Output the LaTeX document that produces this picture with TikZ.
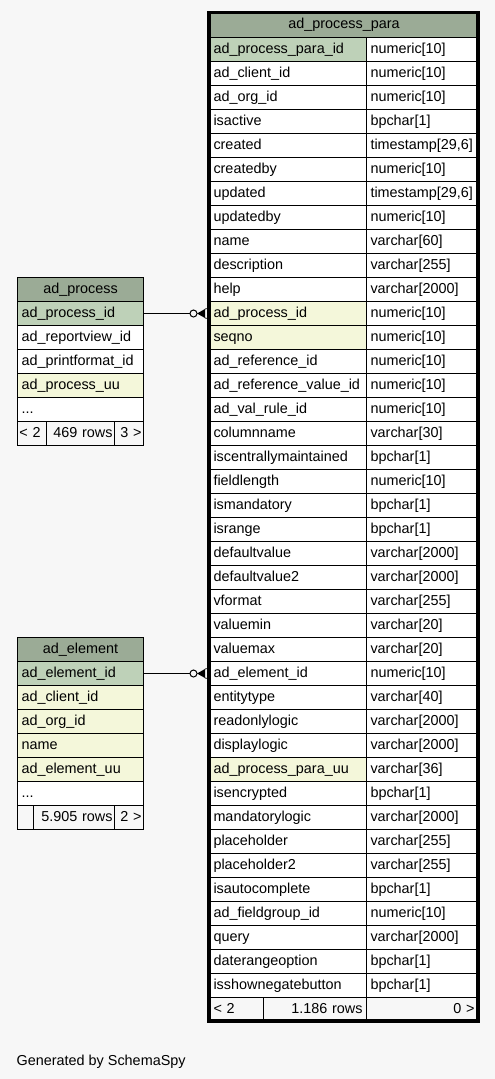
\documentclass[tikz,border=0pt]{standalone}
\usepackage{fontspec}
\setmainfont{Liberation Sans}
\usetikzlibrary{calc}
\definecolor{bg}{HTML}{F7F7F7}
\definecolor{hdr}{HTML}{9BAB96}
\definecolor{pkc}{HTML}{BED1B8}
\definecolor{fkc}{HTML}{F4F7DA}
\begin{document}
\begin{tikzpicture}[x=1pt,y=-1pt,
  font=\fontsize{14.4}{16}\selectfont,
  cell/.style={draw=black, line width=1pt, anchor=north west, minimum height=24pt,
    inner xsep=4pt, inner ysep=0pt, text height=10.5pt, text depth=3pt, align=left},
  hcell/.style={cell, fill=hdr, align=center},
  rcell/.style={cell, fill=bg, align=right},
  lcell/.style={cell, fill=bg, align=left},
  ncell/.style={inner xsep=2pt},
  conn/.style={line width=1pt, draw=black}]
\fill[bg] (0,0) rectangle (495,1079);
\useasboundingbox (0,0) rectangle (495,1079);

% ---------------- main table ----------------
\node[hcell, text width=261pt, minimum height=25pt] (m0) at (209,12) {ad\_process\_para};
\foreach \n/\t/\c [count=\i from 1] in {
 ad\_process\_para\_id/numeric[10]/pkc,
 ad\_client\_id/numeric[10]/white,
 ad\_org\_id/numeric[10]/white,
 isactive/bpchar[1]/white,
 created/{timestamp[29,6]}/white,
 createdby/numeric[10]/white,
 updated/{timestamp[29,6]}/white,
 updatedby/numeric[10]/white,
 name/varchar[60]/white,
 description/varchar[255]/white,
 help/varchar[2000]/white,
 ad\_process\_id/numeric[10]/fkc,
 seqno/numeric[10]/fkc,
 ad\_reference\_id/numeric[10]/white,
 ad\_reference\_value\_id/numeric[10]/white,
 ad\_val\_rule\_id/numeric[10]/white,
 columnname/varchar[30]/white,
 iscentrallymaintained/bpchar[1]/white,
 fieldlength/numeric[10]/white,
 ismandatory/bpchar[1]/white,
 isrange/bpchar[1]/white,
 defaultvalue/varchar[2000]/white,
 defaultvalue2/varchar[2000]/white,
 vformat/varchar[255]/white,
 valuemin/varchar[20]/white,
 valuemax/varchar[20]/white,
 ad\_element\_id/numeric[10]/white,
 entitytype/varchar[40]/white,
 readonlylogic/varchar[2000]/white,
 displaylogic/varchar[2000]/white,
 ad\_process\_para\_uu/varchar[36]/fkc,
 isencrypted/bpchar[1]/white,
 mandatorylogic/varchar[2000]/white,
 placeholder/varchar[255]/white,
 placeholder2/varchar[255]/white,
 isautocomplete/bpchar[1]/white,
 ad\_fieldgroup\_id/numeric[10]/white,
 query/varchar[2000]/white,
 daterangeoption/bpchar[1]/white,
 isshownegatebutton/bpchar[1]/white}{
  \node[cell, fill=\c, text width=149pt] (m\i) at (209,{37+(\i-1)*24}) {\n};
  \node[cell, fill=white, text width=104pt] (t\i) at (366,{37+(\i-1)*24}) {\t};
}
\node[lcell, text width=46pt] (mf1) at (209,997) {< 2};
\node[rcell, text width=95pt] (mf2) at (263,997) {1.186 rows};
\node[rcell, text width=104pt] (mf3) at (366,997) {0 >};
\draw[line width=3.5pt] (209,12.5) rectangle (478,1021);

% ---------------- ad_process ----------------
\node[hcell, text width=118pt] (p0) at (17,277) {ad\_process};
\node[cell, fill=pkc, text width=118pt] (p1) at (17,301) {ad\_process\_id};
\node[cell, fill=white, text width=118pt] (p2) at (17,325) {ad\_reportview\_id};
\node[cell, fill=white, text width=118pt] (p3) at (17,349) {ad\_printformat\_id};
\node[cell, fill=fkc, text width=118pt] (p4) at (17,373) {ad\_process\_uu};
\node[cell, fill=white, text width=118pt] (p5) at (17,397) {...};
\node[lcell, ncell, text width=25pt] (pf1) at (17,421) {\mbox{< 2}};
\node[rcell, ncell, text width=64pt] (pf2) at (46,421) {469 rows};
\node[rcell, ncell, text width=25pt] (pf3) at (114,421) {\mbox{3 >}};

% ---------------- ad_element ----------------
\node[hcell, text width=118pt] (e0) at (17,637) {ad\_element};
\node[cell, fill=pkc, text width=118pt] (e1) at (17,661) {ad\_element\_id};
\node[cell, fill=fkc, text width=118pt] (e2) at (17,685) {ad\_client\_id};
\node[cell, fill=fkc, text width=118pt] (e3) at (17,709) {ad\_org\_id};
\node[cell, fill=fkc, text width=118pt] (e4) at (17,733) {name};
\node[cell, fill=fkc, text width=118pt] (e5) at (17,757) {ad\_element\_uu};
\node[cell, fill=white, text width=118pt] (e6) at (17,781) {...};
\node[lcell, ncell, text width=12pt] (ef1) at (17,805) {};
\node[rcell, ncell, text width=77pt] (ef2) at (33,805) {5.905 rows};
\node[rcell, ncell, text width=25pt] (ef3) at (114,805) {\mbox{2 >}};

% ---------------- connectors ----------------
\foreach \s/\d in {p1/m12, e1/m27}{
  \draw[conn] (\s.east) -- ($(\d.west)+(-19,0)$);
  \draw[conn, fill=bg] ($(\d.west)+(-15.5,0)$) circle (3.5pt);
  \fill[black] ($(\d.west)+(-12,0)$) -- ($(\d.west)+(-4,-4.5)$) -- ($(\d.west)+(-4,4.5)$) -- cycle;
  \draw[line width=0.8pt] ($(\d.west)+(-4,-4.5)$) -- ($(\d.west)+(-1,-5)$);
  \draw[line width=0.8pt] ($(\d.west)+(-4,4.5)$) -- ($(\d.west)+(-1,5)$);
}

\node[anchor=base west, inner sep=0pt] (gen) at (16.5,1065) {Generated by SchemaSpy};
\end{tikzpicture}
\end{document}
